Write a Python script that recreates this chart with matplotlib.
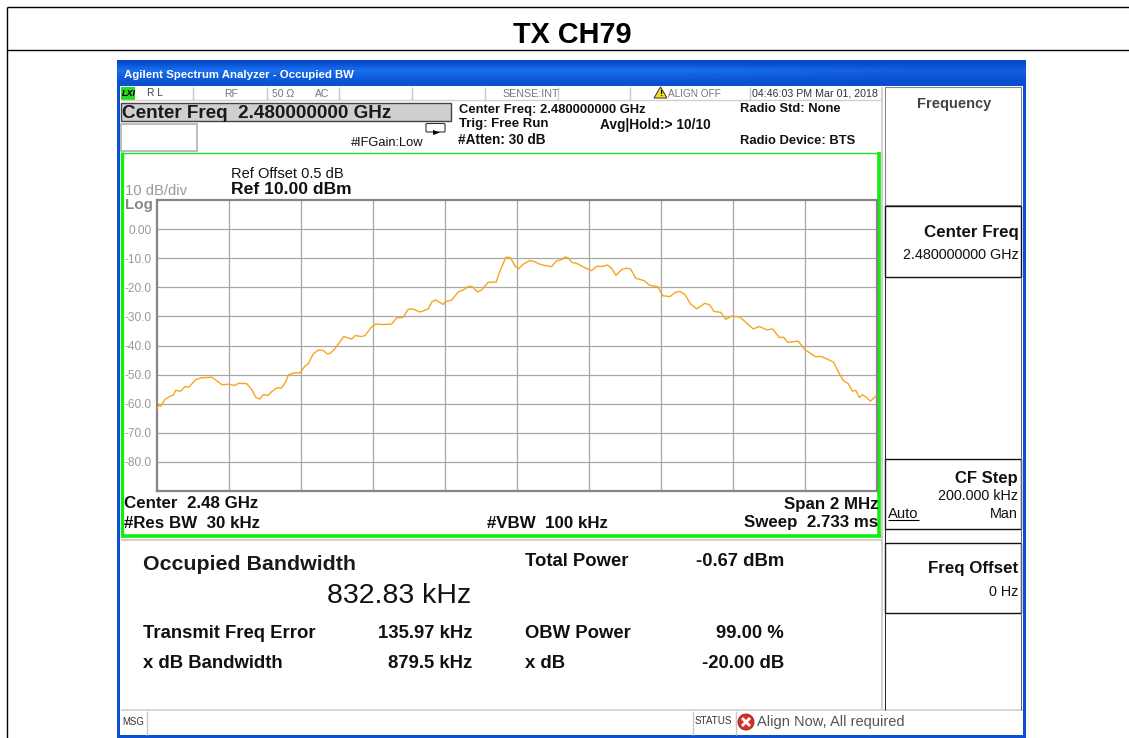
import numpy as np
import matplotlib
matplotlib.use('Agg')
import matplotlib.pyplot as plt
from matplotlib.colors import LinearSegmentedColormap
from matplotlib.patches import Rectangle, Polygon, Circle, FancyBboxPatch

plt.rcParams['font.family'] = ['Liberation Sans', 'DejaVu Sans']

W, H = 1129, 738

# trace: offset from center (MHz), level (dBm)
freq_mhz = [-1.000, -0.994, -0.990, -0.978, -0.964, -0.955, -0.948, -0.934, -0.922, -0.911,
            -0.892, -0.876, -0.848, -0.825, -0.820, -0.802, -0.783, -0.774, -0.751, -0.737,
            -0.725, -0.714, -0.705, -0.691, -0.681, -0.668, -0.654, -0.643, -0.635, -0.617,
            -0.603, -0.589, -0.580, -0.566, -0.552, -0.538, -0.527, -0.518, -0.506, -0.481,
            -0.459, -0.450, -0.431, -0.422, -0.406, -0.392, -0.371, -0.348, -0.334, -0.316,
            -0.302, -0.288, -0.269, -0.246, -0.237, -0.226, -0.205, -0.200, -0.181, -0.163,
            -0.149, -0.135, -0.124, -0.110, -0.098, -0.080, -0.058, -0.047, -0.031, -0.019,
            -0.006, 0.004, 0.018, 0.034, 0.045, 0.064, 0.078, 0.096, 0.110, 0.124,
            0.133, 0.143, 0.152, 0.166, 0.184, 0.198, 0.207, 0.221, 0.240, 0.251,
            0.263, 0.275, 0.291, 0.305, 0.316, 0.330, 0.353, 0.368, 0.391, 0.405,
            0.425, 0.439, 0.453, 0.467, 0.482, 0.499, 0.522, 0.536, 0.547, 0.566,
            0.580, 0.596, 0.619, 0.656, 0.673, 0.694, 0.710, 0.729, 0.740, 0.752,
            0.781, 0.800, 0.828, 0.846, 0.879, 0.893, 0.906, 0.920, 0.932, 0.941,
            0.951, 0.959, 0.969, 0.982, 0.999]
level_dbm = [-61.7, -60.2, -60.9, -58.6, -57.4, -57.1, -55.4, -55.7, -54.1, -54.3,
             -51.7, -51.1, -50.9, -52.9, -53.5, -53.3, -53.7, -53.0, -53.1, -55.1,
             -57.9, -58.4, -56.9, -57.1, -55.8, -54.6, -54.6, -52.6, -50.1, -49.4,
             -49.4, -47.1, -46.3, -42.9, -41.6, -41.7, -42.9, -42.6, -41.1, -36.9,
             -37.8, -36.6, -36.9, -36.6, -33.9, -32.6, -32.8, -32.6, -30.5, -30.3,
             -27.5, -27.5, -28.5, -27.4, -25.1, -24.3, -25.9, -25.0, -24.3, -21.6,
             -20.9, -19.7, -19.8, -21.6, -20.9, -18.3, -18.2, -14.3, -9.7, -9.7,
             -12.6, -13.7, -12.0, -10.9, -11.0, -12.1, -12.5, -12.9, -10.9, -10.5,
             -9.6, -9.9, -11.4, -11.8, -13.0, -13.8, -14.3, -12.8, -12.8, -12.3,
             -13.5, -15.9, -13.9, -13.4, -13.8, -16.9, -17.7, -19.3, -19.8, -22.9,
             -23.2, -21.8, -21.4, -22.6, -25.7, -27.4, -25.5, -26.1, -28.3, -28.6,
             -31.0, -29.9, -30.2, -34.3, -33.5, -34.6, -34.3, -37.3, -37.1, -38.9,
             -38.5, -41.4, -43.8, -43.8, -45.7, -49.1, -52.0, -53.1, -55.7, -55.4,
             -57.9, -56.9, -57.7, -59.1, -57.1]

y_ticks = [0, -10, -20, -30, -40, -50, -60, -70, -80]
y_labels = ['0.00', '-10.0', '-20.0', '-30.0', '-40.0', '-50.0', '-60.0', '-70.0', '-80.0']
x_ticks = [-0.8, -0.6, -0.4, -0.2, 0, 0.2, 0.4, 0.6, 0.8]

fig = plt.figure(figsize=(W / 100, H / 100), dpi=100)

# page layer in pixel coordinates, holds the table and analyzer screen chrome
bg = fig.add_axes([0, 0, 1, 1])
bg.axis('off')


def box(x0, y0, x1, y1, fc='white', ec='none', lw=1.0, z=1):
    bg.add_patch(Rectangle((x0, y0), x1 - x0, y1 - y0, fc=fc, ec=ec, lw=lw, zorder=z))


def line(x0, y0, x1, y1, c='black', lw=1.0, z=2):
    bg.plot([x0, x1], [y0, y1], color=c, lw=lw, zorder=z, solid_capstyle='butt')


def txt(x, y, s, size=9.5, bold=False, c='#111111', ha='left', **kw):
    # va center sits a little high for caps, hence the nudge
    bg.text(x, y + 4, s, fontsize=size, fontweight='bold' if bold else 'normal', color=c,
            ha=ha, va='center', zorder=5, **kw)


# outer table
line(7, 7, 1129, 7, lw=1.0)
line(7, 50, 1129, 50, lw=1.0)
line(7, 7, 7, 738, lw=1.0)
txt(572, 31, 'TX CH79', size=20.8, bold=True, c='black', ha='center')

# window
box(117, 60, 1026, 738, fc='#0a50d0')
box(120, 86, 1023, 735, fc='white')
bar = np.array([[0.0, 0.25, 0.6, 0.85, 0.6, 0.45, 0.3, 0.2]]).T
bar = np.hstack([bar, bar, bar, bar * 0.6])
title_cmap = LinearSegmentedColormap.from_list('ttl', ['#0548c8', '#1a70f0'])
bg.imshow(bar, extent=(117, 1026, 85, 60), aspect='auto', cmap=title_cmap, zorder=2,
          interpolation='bilinear')
txt(124, 70.5, 'Agilent Spectrum Analyzer - Occupied BW', size=8.2, bold=True, c='white')

# status strip
box(121, 87, 135, 100, fc='#22dd22')
txt(121.5, 89, 'LXI', size=6.5, bold=True, c='black', style='italic')
line(121, 100, 882, 100, c='#d4d0c8', lw=1.0)
for sx in [193, 267, 339, 412, 485, 558, 630, 750]:
    line(sx, 87, sx, 100, c='#c8c8c8', lw=1.0)
gray_txt = '#777777'
txt(147, 89, 'R L', size=7.3, c='#444444')
txt(224, 90, 'RF', size=7.5, c=gray_txt)
txt(272, 90, '50 Ω', size=7.5, c=gray_txt)
txt(315, 90, 'AC', size=7.5, c=gray_txt)
txt(502, 90, 'SENSE:INT', size=7.7, c=gray_txt)
bg.add_patch(Polygon([[654, 98], [667, 98], [660.5, 87]], fc='#f2dc1e', ec='#333333', lw=0.7, zorder=3))
txt(660.5, 89, '!', size=6.5, bold=True, c='black', ha='center')
txt(668, 90, 'ALIGN OFF', size=7.2, c=gray_txt)
txt(752, 90, '04:46:03 PM Mar 01, 2018', size=7.7, c='#333333')

# control readouts
box(121, 102.5, 451, 121, fc='#d0ced0', ec='#444444', lw=1.0)
txt(122, 109, 'Center Freq  2.480000000 GHz', size=13.6, bold=True, c='#1a1a1a')
box(121, 124, 197, 151, fc='white', ec='#b0b0b0', lw=1.2)
txt(351, 139, '#IFGain:Low', size=9.3)
bg.add_patch(FancyBboxPatch((427, 124.5), 17, 6.5, boxstyle='round,pad=1', fc='white', ec='#333333',
                            lw=0.8, zorder=3))
bg.add_patch(Polygon([[433, 130], [440, 132.5], [433, 135]], fc='black', zorder=4))
txt(459, 105.5, 'Center Freq: 2.480000000 GHz', size=9.4, bold=True)
txt(459, 120.5, 'Trig: Free Run', size=9.5, bold=True)
txt(458, 136, '#Atten: 30 dB', size=9.8, bold=True)
txt(600, 120.5, 'Avg|Hold:> 10/10', size=9.9, bold=True)
txt(740, 105.5, 'Radio Std: None', size=9.4, bold=True)
txt(740, 136.5, 'Radio Device: BTS', size=9.4, bold=True)

# green trace window
line(121, 152.5, 880, 152.5, c='#22dd22', lw=1.0)
line(122, 152, 122, 537, c='#11ee11', lw=2.4)
line(879, 152, 879, 537, c='#11ee11', lw=2.6)
line(121, 535.5, 881, 535.5, c='#11ee11', lw=2.6)
txt(231, 170, 'Ref Offset 0.5 dB', size=10.5)
txt(231, 186, 'Ref 10.00 dBm', size=12.6, bold=True)
txt(125, 187, '10 dB/div', size=10.7, c='#999999')
txt(125, 201, 'Log', size=11, bold=True, c='#888888')
txt(124, 500, 'Center  2.48 GHz', size=12.2, bold=True)
txt(124, 519, '#Res BW  30 kHz', size=12.2, bold=True)
txt(487, 519, '#VBW  100 kHz', size=12.2, bold=True)
txt(878, 500, 'Span 2 MHz', size=12.2, bold=True, ha='right')
txt(878, 519, 'Sweep  2.733 ms', size=12.2, bold=True, ha='right')

# measurement panel
line(121, 540, 882, 540, c='#d4d0c8', lw=1.4)
line(882, 87, 882, 710, c='#d4d0c8', lw=1.4)
line(121, 710, 1023, 710, c='#d4d0c8', lw=1.2)
txt(143, 561, 'Occupied Bandwidth', size=15.4, bold=True, c='#1a1a1a')
txt(471, 592, '832.83 kHz', size=20.5, ha='right', c='#111111')
txt(143, 629, 'Transmit Freq Error', size=13.3, bold=True)
txt(472, 629, '135.97 kHz', size=13.3, bold=True, ha='right')
txt(143, 660, 'x dB Bandwidth', size=13.3, bold=True)
txt(472, 660, '879.5 kHz', size=13.3, bold=True, ha='right')
txt(525, 558, 'Total Power', size=13.3, bold=True)
txt(784, 558, '-0.67 dBm', size=13.3, bold=True, ha='right')
txt(525, 629, 'OBW Power', size=13.3, bold=True)
txt(784, 629, '99.00 %', size=13.3, bold=True, ha='right')
txt(525, 660, 'x dB', size=13.3, bold=True)
txt(784, 660, '-20.00 dB', size=13.3, bold=True, ha='right')

# softkeys
box(885, 87, 1021, 205, fc='white', ec='#888888', lw=0.8)
txt(954, 100, 'Frequency', size=10.5, ha='center', bold=True, c='#444444')
for y0, y1 in [(206, 277), (459, 529), (543, 613)]:
    box(885, y0, 1021, y1, fc='white', ec='#111111', lw=1.0)
line(885, 277, 885, 710, c='#222222', lw=0.7)
line(1021, 277, 1021, 710, c='#666666', lw=0.7)
txt(1019, 228, 'Center Freq', size=12.2, bold=True, ha='right')
txt(1019, 251, '2.480000000 GHz', size=10.4, ha='right')
txt(1018, 474, 'CF Step', size=12, bold=True, ha='right')
txt(1018, 492, '200.000 kHz', size=10.4, ha='right')
txt(888, 510, 'Auto', size=10.6)
line(888, 520, 919, 520, lw=0.8)
txt(1018, 510, 'Man', size=10.4, ha='right')
txt(1018, 564, 'Freq Offset', size=12.2, bold=True, ha='right')
txt(1018, 588, '0 Hz', size=10.4, ha='right')

# message bar
line(147, 711, 147, 735, c='#c8c8c8', lw=1.0)
line(693, 711, 693, 735, c='#c8c8c8', lw=1.0)
line(736, 711, 736, 735, c='#c8c8c8', lw=1.0)
txt(122, 718, 'MSG', size=6.9, c='#333333')
txt(695, 717, 'STATUS', size=7.1, c='#333333')
bg.add_patch(Circle((746, 722), 8, fc='#d8302a', ec='#8a1a14', lw=0.6, zorder=3))
line(742, 718, 750, 726, c='white', lw=2, z=4)
line(750, 718, 742, 726, c='white', lw=2, z=4)
txt(757, 718, 'Align Now, All required', size=10.5, c='#555555')

# imshow and plot move the limits, so pin the pixel frame last
bg.set_xlim(0, W)
bg.set_ylim(H, 0)

# spectrum plot
ax = fig.add_axes([157 / W, 1 - 491 / H, 720 / W, 291 / H])
ax.plot(freq_mhz, level_dbm, color='#f7a51e', lw=1.0, zorder=3)
ax.set_xlim(-1, 1)
ax.set_ylim(-90, 10)
ax.set_xticks(x_ticks)
ax.set_xticklabels([])
ax.set_yticks(y_ticks)
ax.set_yticklabels(y_labels, fontsize=8.6, color='#999999')
ax.tick_params(length=0, pad=4)
ax.grid(True, color='#a8a8a8', lw=0.9)
ax.set_axisbelow(True)
for s in ax.spines.values():
    s.set_color('#858585')
    s.set_linewidth(1.6)

fig.savefig('out.png', dpi=100)
